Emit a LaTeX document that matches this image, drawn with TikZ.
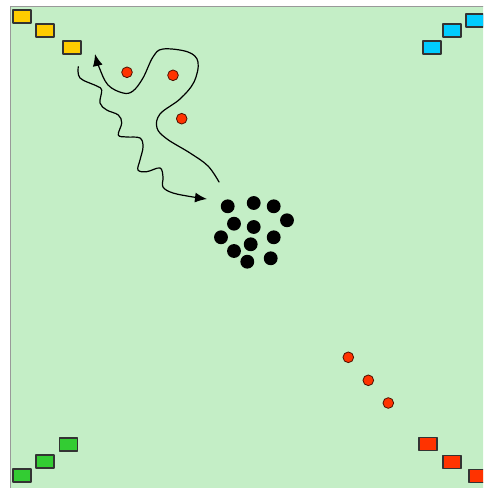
\documentclass[tikz,border=0pt]{standalone}
\usetikzlibrary{arrows.meta}
\definecolor{field}{HTML}{C4EEC6}
\definecolor{yellow}{HTML}{FFCC00}
\definecolor{cyan}{HTML}{00CCFF}
\definecolor{green}{HTML}{33CC33}
\definecolor{red}{HTML}{FF3300}
\begin{document}
\begin{tikzpicture}[x=0.75pt,y=-0.75pt,>={Latex[length=9pt,width=7.5pt]},line cap=round,line join=round]
  \tikzset{base/.style={draw=black!80,line width=0.8pt},
    token/.style={fill=red,draw=black!70!red,line width=0.6pt},
    ball/.style={fill=black},
    route/.style={draw=black,line width=0.9pt,->}}
  \useasboundingbox (0,0) rectangle (483,488);
  \clip (0,0) rectangle (483,488);
  % field
  \filldraw[fill=field,draw=black!40,line width=0.7pt] (10.5,6.5) rectangle (500,500);
  % home bases
  \foreach \cx/\cy/\col in {22/16.5/yellow,45/30.5/yellow,72/47.5/yellow,
      432/47.5/cyan,452/30.5/cyan,475/20.5/cyan,
      22/475.5/green,45/461.5/green,68.5/444.5/green,
      428/444/red,452/462/red,478/476/red}{
    \filldraw[base,fill=\col] ({\cx-9},{\cy-6.5}) rectangle ({\cx+9},{\cy+6.5});
  }
  % red tokens
  \foreach \x/\y in {127/72.3,173/75.3,181.7/118.7,348.3/357.3,368.3/380.3,388.3/403}{
    \filldraw[token] (\x,\y) circle (4pt);
  }
  % black pile
  \foreach \x/\y in {227.7/206.3,253.7/203,273.7/206.3,287/220.3,234/223.7,253.7/227,
      221/237.3,273.7/237.3,250.7/244.3,234/251,270.7/258.3,247.3/261.7}{
    \fill[ball] (\x,\y) circle (5.2pt);
  }
  % loop back to the base
  \draw[route] plot[smooth,tension=0.6] coordinates {(219,182)(208,166)(190,153)(167,139)(157,128)(160,114)(180,99)(194,82)(198,62)(188,52)(163,49)(153,57)(143,78)(133,91)(123,93)(108,85)(99,67)(95,54)};
  % wiggly path to the pile
  \draw[route] plot[smooth,tension=0.6] coordinates {(78.3,66.7)(80,78)(96.7,86)(101.7,90)(100,103)(106.7,110)(118.3,115)(121.7,123)(118.3,135)(126.7,137)(140,138)(143,147)(140,160)(138,170)(146.7,171.7)(160,168)(163,177)(163,187)(173,193)(193,197)(207,199)};
\end{tikzpicture}
\end{document}
